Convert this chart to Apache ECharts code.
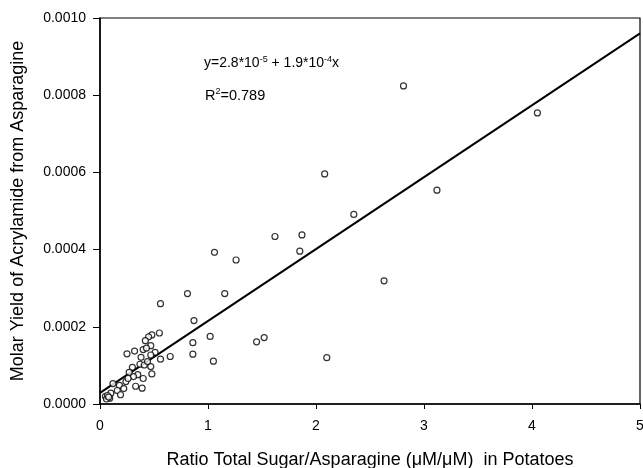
<!DOCTYPE html>
<html>
<head>
<meta charset="utf-8">
<script src="https://cdn.jsdelivr.net/npm/echarts@6/dist/echarts.min.js"></script>
<style>html,body{margin:0;padding:0;background:#fff}#c{width:643px;height:468px}</style>
</head>
<body>
<div id="c"></div>
<script>
// Scatter data: ratio total sugar/asparagine (x), molar yield (y, units of 1e-4)
var ratioX = [4.05,2.81,3.12,2.08,2.35,2.63,2.10,1.87,1.85,1.62,1.52,1.45,1.26,1.06,1.155,0.81,1.02,1.05,0.87,0.86,0.86,0.65,0.56,0.55,0.48,0.45,0.42,0.47,0.40,0.51,0.47,0.38,0.56,0.32,0.25,0.37,0.41,0.47,0.30,0.35,0.31,0.48,0.40,0.33,0.39,0.24,0.18,0.22,0.16,0.12,0.19,0.10,0.05,0.09,0.06,0.07,0.08,0.27,0.26,0.44,0.43];
var yieldE4 = [7.54,8.24,5.54,5.96,4.91,3.19,1.20,4.38,3.96,4.34,1.72,1.61,3.73,3.93,2.86,2.86,1.75,1.11,2.16,1.59,1.29,1.23,2.60,1.84,1.79,1.74,1.64,1.51,1.41,1.34,1.27,1.21,1.16,1.37,1.30,1.03,1.01,0.97,0.95,0.76,0.71,0.78,0.66,0.46,0.41,0.58,0.48,0.40,0.35,0.53,0.24,0.28,0.20,0.15,0.13,0.22,0.18,0.82,0.66,1.10,1.45];
// Regression line end points
var fitX = [0, 5];
var fitY = [0.000029, 0.00096];
var xTicks = ['0','1','2','3','4','5'];
var yTicks = ['0.0000','0.0002','0.0004','0.0006','0.0008','0.0010'];

var pts = ratioX.map(function(x,i){ return [x, yieldE4[i]*1e-4]; });
var line = fitX.map(function(x,i){ return [x, fitY[i]]; });

var chart = echarts.init(document.getElementById('c'), null, {renderer:'canvas'});
var font = 'Liberation Sans, Arial, sans-serif';
chart.setOption({
  animation:false,
  backgroundColor:'#fff',
  grid:{left:100, right:3, top:18, bottom:64, containLabel:false, outerBoundsMode:'none',
        show:true, borderColor:'#000', borderWidth:1.2, backgroundColor:'transparent'},
  title:[
    {text:'y=2.8*10{s|-5} + 1.9*10{s|-4}x', left:204, top:55, padding:0,
     textStyle:{fontFamily:font, fontSize:14, fontWeight:'normal', color:'#000',
       rich:{s:{fontSize:9, padding:[0,0,8,0], fontFamily:font, color:'#000'}}}},
    {text:'R{s|2}=0.789', left:205, top:87, padding:0,
     textStyle:{fontFamily:font, fontSize:14.5, fontWeight:'normal', color:'#000',
       rich:{s:{fontSize:9, padding:[0,0,8,0], fontFamily:font, color:'#000'}}}}
  ],
  xAxis:{type:'value', min:0, max:5, interval:1,
    name:'Ratio Total Sugar/Asparagine (\u03bcM/\u03bcM)  in Potatoes',
    nameLocation:'middle', nameGap:47,
    nameTextStyle:{fontFamily:font, fontSize:18, color:'#000'},
    axisLine:{lineStyle:{color:'#000', width:1.5}},
    axisTick:{show:true, length:5, lineStyle:{color:'#000'}},
    axisLabel:{fontFamily:font, fontSize:14, color:'#000', margin:15,
      formatter:function(v){ return xTicks[Math.round(v)]; }},
    splitLine:{show:false}},
  yAxis:{type:'value', min:0, max:0.001, interval:0.0002,
    name:'Molar Yield of Acrylamide from Asparagine',
    nameLocation:'middle', nameGap:73,
    nameTextStyle:{fontFamily:font, fontSize:18, color:'#000'},
    axisLine:{lineStyle:{color:'#000', width:1.5}},
    axisTick:{show:true, length:7, lineStyle:{color:'#000'}},
    axisLabel:{fontFamily:font, fontSize:14, color:'#000', margin:14,
      formatter:function(v){ return yTicks[Math.round(v/0.0002)]; }},
    splitLine:{show:false}},
  series:[
    {type:'line', data:line, symbol:'none', lineStyle:{color:'#000', width:2}, silent:true, z:2},
    {type:'scatter', data:pts, symbol:'circle', symbolSize:6,
     itemStyle:{color:'#fff', borderColor:'#000', borderWidth:1.2}, z:3}
  ]
});
</script>
</body>
</html>
